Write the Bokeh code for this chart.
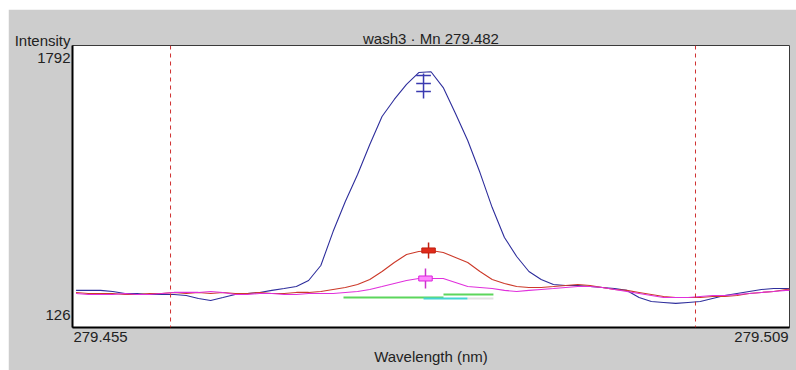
from bokeh.plotting import figure
from bokeh.models import Range1d, FixedTicker, PrintfTickFormatter, Label, Span, ColumnDataSource
from bokeh.embed import file_html
from bokeh.resources import INLINE

# ---- data -------------------------------------------------------------
wavelength = [279.453, 279.454, 279.455, 279.456, 279.457, 279.458, 279.459, 279.460, 279.461, 279.462,
              279.463, 279.464, 279.465, 279.466, 279.467, 279.468, 279.469, 279.470, 279.471, 279.472,
              279.473, 279.474, 279.475, 279.476, 279.477, 279.478, 279.479, 279.480, 279.481, 279.482,
              279.483, 279.484, 279.485, 279.486, 279.487, 279.488, 279.489, 279.490, 279.491, 279.492,
              279.493, 279.494, 279.495, 279.496, 279.497, 279.498, 279.499, 279.500, 279.501, 279.502,
              279.503, 279.504, 279.505, 279.506, 279.507, 279.508, 279.509, 279.510, 279.511, 279.512]

blue = [288, 288, 288, 281, 268, 268, 262, 262, 262, 255,
        236, 223, 242, 262, 268, 275, 288, 300, 313, 352,
        449, 668, 862, 1037, 1230, 1411, 1521, 1618, 1695, 1700,
        1598, 1430, 1256, 1049, 823, 630, 507, 410, 359, 326,
        320, 320, 313, 307, 300, 288, 242, 216, 210, 204,
        210, 216, 236, 255, 268, 281, 294, 300, 300, 300]

red = [275, 268, 268, 268, 262, 262, 268, 268, 275, 268,
       275, 268, 275, 268, 268, 275, 268, 268, 275, 275,
       281, 294, 307, 326, 359, 410, 468, 520, 539, 546,
       533, 501, 468, 410, 359, 333, 313, 307, 307, 313,
       320, 326, 320, 307, 294, 288, 275, 262, 249, 242,
       242, 242, 249, 249, 255, 268, 275, 281, 294, 300]

magenta = [268, 262, 262, 262, 268, 262, 262, 268, 275, 275,
           275, 281, 275, 262, 262, 268, 268, 262, 262, 268,
           268, 268, 275, 281, 294, 313, 333, 352, 365, 365,
           365, 339, 313, 307, 300, 288, 281, 288, 294, 300,
           307, 313, 313, 307, 294, 281, 268, 255, 242, 242,
           242, 249, 255, 255, 262, 268, 275, 281, 288, 288]

# background fit segments
green_x0 = [279.47485, 279.48302]
green_x1 = [279.48302, 279.48710]
green_y = [242, 262]
cyan_x0 = [279.48139]
cyan_x1 = [279.48498]
cyan_y = [236]
grey_x0 = [279.48498]
grey_x1 = [279.48710]
grey_y = [236]

# peak markers
blue_mark_x = 279.48139
blue_mark_top, blue_mark_bottom = 1689, 1527
blue_mark_ticks = [1676, 1624, 1572]
red_mark_x = 279.48180
red_mark_top, red_mark_bottom, red_mark_level = 597, 494, 546
mag_mark_x = 279.48155
mag_mark_top, mag_mark_bottom, mag_mark_level = 430, 300, 365
mark_half = 0.0006

# background correction positions
bg_positions = [279.46072, 279.50361]

x_ticks = [279.455, 279.509]
y_ticks = [126, 1792]
title_text = "wash3 \u00b7 Mn 279.482"
x_label = "Wavelength (nm)"
y_label = "Intensity"

# ---- figure -----------------------------------------------------------
FONT = "Liberation Sans"
X_START, X_END = 279.45271, 279.51129
Y_START, Y_END = 48.5, 1869.5
p = figure(width=788, height=361, output_backend="svg", toolbar_location=None,
           margin=(9, 0, 0, 8),
           x_range=Range1d(X_START, X_END), y_range=Range1d(Y_START, Y_END),
           min_border_left=64, min_border_right=7, min_border_top=36, min_border_bottom=43)

p.background_fill_color = "white"
p.border_fill_color = "#cdcdcd"
p.outline_line_color = "#3a3a3a"
p.outline_line_width = 1
p.grid.visible = False
p.title.visible = False

for ax in (p.xaxis[0], p.yaxis[0]):
    ax.axis_line_color = "black"
    ax.axis_line_width = 2
    ax.major_tick_line_color = None
    ax.minor_tick_line_color = None
    ax.major_tick_out = 0
    ax.major_tick_in = 0
    ax.major_label_text_font = FONT
    ax.major_label_text_font_size = "15px"
    ax.major_label_text_color = "#222222"

p.xaxis[0].ticker = FixedTicker(ticks=x_ticks)
p.xaxis[0].formatter = PrintfTickFormatter(format="%.3f")
p.xaxis[0].major_label_standoff = 4
p.xaxis[0].axis_label = x_label
p.xaxis[0].axis_label_text_font = FONT
p.xaxis[0].axis_label_text_font_size = "15px"
p.xaxis[0].axis_label_text_font_style = "normal"
p.xaxis[0].axis_label_text_color = "#222222"
p.xaxis[0].axis_label_standoff = 3

p.yaxis[0].ticker = FixedTicker(ticks=y_ticks)
p.yaxis[0].formatter = PrintfTickFormatter(format="%d")
p.yaxis[0].major_label_standoff = 2

# title and "Intensity" caption, placed in the top side panel (data-anchored, not clipped)
p.add_layout(Label(x=(X_START + X_END) / 2, y=Y_END, y_offset=7, text=title_text,
                   text_align="center", text_baseline="alphabetic", text_font=FONT,
                   text_font_size="15px", text_color="#222222"), "above")
p.add_layout(Label(x=X_START, y=Y_END, x_offset=-2, y_offset=5, text=y_label,
                   text_align="right", text_baseline="alphabetic", text_font=FONT,
                   text_font_size="15px", text_color="#222222"), "above")

for pos in bg_positions:
    p.add_layout(Span(location=pos, dimension="height", line_color="#d03030",
                      line_dash="4 4", line_width=1))

src = ColumnDataSource(dict(wl=wavelength, blue=blue, red=red, magenta=magenta))
p.line("wl", "blue", source=src, line_color="#2e2e9c", line_width=1.1)
p.line("wl", "red", source=src, line_color="#cc3a2a", line_width=1.1)
p.line("wl", "magenta", source=src, line_color="#e030dc", line_width=1.1)

p.segment(x0=green_x0, y0=green_y, x1=green_x1, y1=green_y, line_color="#5cd65c", line_width=2)
p.segment(x0=grey_x0, y0=grey_y, x1=grey_x1, y1=grey_y, line_color="#e2e2e2", line_width=2)
p.segment(x0=cyan_x0, y0=cyan_y, x1=cyan_x1, y1=cyan_y, line_color="#44d4d4", line_width=2)

# blue marker
p.segment(x0=[blue_mark_x], y0=[blue_mark_bottom], x1=[blue_mark_x], y1=[blue_mark_top],
          line_color="#3a3ab0", line_width=1.5)
p.segment(x0=[blue_mark_x - mark_half] * 3, y0=blue_mark_ticks,
          x1=[blue_mark_x + mark_half] * 3, y1=blue_mark_ticks,
          line_color="#3a3ab0", line_width=1.5)
# red marker
p.segment(x0=[red_mark_x], y0=[red_mark_bottom], x1=[red_mark_x], y1=[red_mark_top],
          line_color="#c02010", line_width=1.5)
p.rect(x=[red_mark_x], y=[red_mark_level], width=0.0011, height=5, height_units="screen",
       fill_color="#e02a1a", line_color="#c02010")
# magenta marker
p.segment(x0=[mag_mark_x], y0=[mag_mark_bottom], x1=[mag_mark_x], y1=[mag_mark_top],
          line_color="#cc33cc", line_width=1.5)
p.rect(x=[mag_mark_x], y=[mag_mark_level], width=0.0011, height=5, height_units="screen",
       fill_color="#ff88ff", line_color="#dd22dd")

open("out.html", "w").write(file_html(p, INLINE))
